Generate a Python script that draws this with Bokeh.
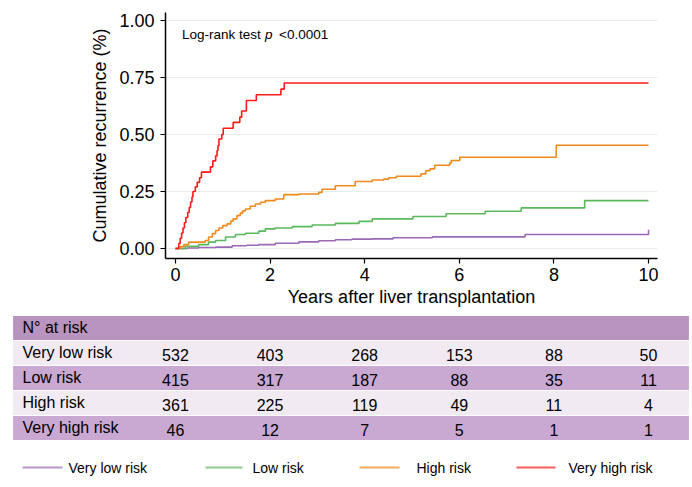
from bokeh.plotting import figure
from bokeh.models import Range1d, FixedTicker, NumeralTickFormatter, Label
from bokeh.core.properties import value
from bokeh.embed import file_html
from bokeh.resources import INLINE

# ---------------- data ----------------
vlow_t = [0, 0.25, 0.49, 0.85, 1.20, 1.50, 1.76, 2.11, 2.61, 3.03, 3.38, 3.73, 4.16, 4.60, 5.43, 7.39, 10.0]
vlow_y = [0, 0.002, 0.004, 0.006, 0.012, 0.014, 0.017, 0.023, 0.029, 0.034, 0.038, 0.041, 0.042, 0.047, 0.051, 0.061, 0.082]

low_t = [0, 0.21, 0.49, 0.70, 0.85, 1.06, 1.27, 1.48, 1.76, 1.90, 2.11, 2.47, 2.89, 3.38, 3.88, 4.16, 5.02, 5.72, 6.55, 7.31, 8.65, 10.0]
low_y = [0, 0.009, 0.017, 0.028, 0.035, 0.05, 0.061, 0.067, 0.076, 0.086, 0.09, 0.096, 0.103, 0.11, 0.119, 0.13, 0.14, 0.152, 0.163, 0.178, 0.21, 0.21]

high_t = [0, 0.10, 0.18, 0.28, 0.63, 0.70, 0.78, 0.85, 0.92, 1.00, 1.09, 1.17, 1.22, 1.30, 1.37, 1.42, 1.48, 1.58, 1.69, 1.80, 1.90, 2.11, 2.29, 2.61, 3.03,
          3.10, 3.38, 3.80, 4.16, 4.40, 4.51, 4.67, 5.19, 5.29, 5.38, 5.48, 5.80, 5.83, 6.01, 8.05, 10.0]
high_y = [0, 0.008, 0.017, 0.028, 0.035, 0.05, 0.065, 0.079, 0.09, 0.10, 0.108, 0.12, 0.13, 0.144, 0.155, 0.165, 0.173, 0.185, 0.195, 0.203, 0.21, 0.217, 0.236, 0.239, 0.246,
          0.26, 0.275, 0.294, 0.30, 0.304, 0.31, 0.317, 0.327, 0.341, 0.349, 0.365, 0.375, 0.386, 0.40, 0.453, 0.453]

vhigh_t = [0, 0.07, 0.10, 0.13, 0.16, 0.19, 0.22, 0.26, 0.29, 0.32, 0.35, 0.37, 0.42, 0.46, 0.51, 0.55, 0.74, 0.79, 0.85, 0.88, 0.90,
           0.92, 0.98, 1.01, 1.22, 1.36, 1.40, 1.50, 1.71, 2.23, 2.30, 10.0]
vhigh_y = [0, 0.022, 0.045, 0.068, 0.09, 0.113, 0.136, 0.158, 0.18, 0.204, 0.226, 0.25, 0.27, 0.29, 0.31, 0.335, 0.358, 0.384, 0.406, 0.43, 0.45,
           0.48, 0.50, 0.527, 0.553, 0.576, 0.603, 0.649, 0.674, 0.699, 0.726, 0.726]

years = [0, 2, 4, 6, 8, 10]
groups = ["Very low risk", "Low risk", "High risk", "Very high risk"]
at_risk_vlow = [532, 403, 268, 153, 88, 50]
at_risk_low = [415, 317, 187, 88, 35, 11]
at_risk_high = [361, 225, 119, 49, 11, 4]
at_risk_vhigh = [46, 12, 7, 5, 1, 1]
y_ticks = [0, 0.25, 0.5, 0.75, 1.0]

colors = ["#9b69b5", "#5cb85c", "#f08a1d", "#ff1a1a"]
FONT = "Liberation Sans"

# ---------------- KM plot ----------------
W = 690
X0, X1 = -0.21, 10.19
BL, BR = 165, W - 657
p = figure(width=W, height=313, output_backend="svg", toolbar_location=None,
           x_range=Range1d(X0, X1), y_range=Range1d(-0.044, 1.035),
           min_border_left=BL, min_border_right=BR, min_border_top=12, min_border_bottom=55)
p.outline_line_color = None
p.background_fill_color = "white"
p.xgrid.visible = False
p.ygrid.grid_line_color = "#ebebeb"
p.ygrid.grid_line_width = 1.2

series = [(vlow_t, vlow_y), (low_t, low_y), (high_t, high_y), (vhigh_t, vhigh_y)]
for (t, y), c in zip(series, colors):
    p.step(t, y, mode="after", line_color=c, line_width=1.6)

p.yaxis.ticker = FixedTicker(ticks=y_ticks)
p.yaxis.formatter = NumeralTickFormatter(format="0.00")
p.xaxis.ticker = FixedTicker(ticks=years)
p.yaxis.axis_label = "Cumulative recurrence (%)"
p.xaxis.axis_label = "Years after liver transplantation"
for ax in (p.xaxis[0], p.yaxis[0]):
    ax.axis_label_text_font = FONT
    ax.axis_label_text_font_size = "18px"
    ax.axis_label_text_font_style = "normal"
    ax.axis_label_text_color = "black"
    ax.major_label_text_font = FONT
    ax.major_label_text_font_size = "18px"
    ax.major_label_text_color = "black"
    ax.axis_line_color = "black"
    ax.axis_line_width = 1.5
    ax.major_tick_line_color = "black"
    ax.major_tick_line_width = 1.2
    ax.major_tick_out = 5
    ax.major_tick_in = 0
    ax.minor_tick_line_color = None
p.xaxis.major_label_standoff = 4
p.xaxis.axis_label_standoff = 3
p.yaxis.major_label_standoff = 6
p.yaxis.axis_label_standoff = 6

lx, ly = 0.14, 0.939
p.add_layout(Label(x=lx, y=ly, text="Log-rank test", text_font=FONT, text_font_size="13.5px",
                   text_baseline="middle", text_color="black"))
p.add_layout(Label(x=lx, y=ly, x_offset=83, text="p", text_font=FONT, text_font_size="13.5px",
                   text_font_style="italic", text_baseline="middle", text_color="black"))
p.add_layout(Label(x=lx, y=ly, x_offset=97, text="<0.0001", text_font=FONT, text_font_size="13.5px",
                   text_baseline="middle", text_color="black"))

# ---------------- at-risk table + legend ----------------
frame_w = W - BL - BR
scale = frame_w / (X1 - X0)          # px per year
T0 = X0 - BL / scale
T1 = X1 + BR / scale
H2 = 172
ROW = 25
top_pad = 0.08
q = figure(width=W, height=H2, output_backend="svg", toolbar_location=None,
           x_range=Range1d(T0, T1), y_range=Range1d(H2 / ROW - top_pad, -top_pad),
           min_border=0, min_border_left=0, min_border_right=0, min_border_top=0, min_border_bottom=0)
q.axis.visible = False
q.grid.visible = False
q.outline_line_color = None


def px_to_x(px):
    # page-pixel x to data x of this figure
    return T0 + px / scale


tbl_left = px_to_x(12)
tbl_right = px_to_x(689)
row_fill = ["#b994c0", "#f1eaf3", "#c9a8d1", "#f1eaf3", "#c9a8d1"]
q.quad(left=[tbl_left] * 5, right=[tbl_right] * 5,
       top=[i for i in range(5)], bottom=[i + 1 for i in range(5)],
       fill_color=row_fill, line_color="white", line_width=1.2)

label_x = px_to_x(22)
q.text(x=[label_x] * 5, y=[i + 0.48 for i in range(5)], text=["N° at risk"] + groups,
       text_font=value(FONT), text_font_size="16px", text_baseline="middle", text_color="black")

tables = [at_risk_vlow, at_risk_low, at_risk_high, at_risk_vhigh]
xs, ys, txt = [], [], []
for i, row in enumerate(tables):
    for yr, n in zip(years, row):
        xs.append(yr)
        ys.append(i + 1 + 0.56)
        txt.append(str(n))
q.text(x=xs, y=ys, text=txt, text_font=value(FONT), text_font_size="16px",
       text_align="center", text_baseline="middle", text_color="black")

# legend
leg_line_px = [(22, 62), (205, 242), (359, 399), (516, 555)]
leg_text_px = [68, 252, 416, 568]
leg_y = 6.08
for (a, b), tp, c, g in zip(leg_line_px, leg_text_px, colors, groups):
    q.line([px_to_x(a), px_to_x(b)], [leg_y, leg_y], line_color=c, line_width=2, line_alpha=0.7)
    q.text(x=[px_to_x(tp)], y=[leg_y], text=[g], text_font=value(FONT), text_font_size="14px",
           text_baseline="middle", text_color="black")

open("out.html", "w").write(file_html([p, q], INLINE))
